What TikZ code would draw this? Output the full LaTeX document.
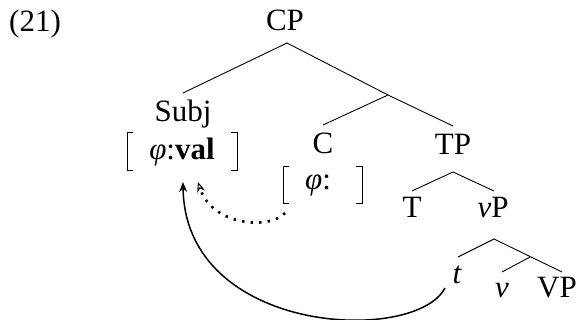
\documentclass[tikz,border=0pt]{standalone}
\usepackage{fontspec}
\setmainfont{Liberation Serif}
\usetikzlibrary{arrows.meta}
\begin{document}
\begin{tikzpicture}[x=1pt,y=-1pt,
  lab/.style={anchor=base,inner sep=0pt,font=\fontsize{31}{36}\selectfont},
  br/.style={line width=0.9pt},
  edge/.style={line width=0.9pt},
  mv/.style={line width=1.5pt,-{Stealth[length=10pt,width=8pt]}},
  agr/.style={line width=2.6pt,dash pattern=on 2.4pt off 6.2pt,-{Stealth[length=10pt,width=8pt,line width=1pt,open]}}]
\useasboundingbox (0,0) rectangle (582,320);
% labels
\node[lab,anchor=base west] (ex) at (9,32) {(21)};
\node[lab] (CP) at (285,31) {CP};
\node[lab] (Subj) at (183,122) {Subj};
\node[lab] (fv) at (182,160) {{\itshape φ}:\textbf{val}};
\node[lab] (C) at (323,154) {C};
\node[lab] (fu) at (318,190) {{\itshape φ}:};
\node[lab] (TP) at (453,155) {TP};
\node[lab] (T) at (412,218) {T};
\node[lab] (vP) at (493,218) {{\itshape v}P};
\node[lab] (t) at (457,284) {\itshape t};
\node[lab] (v) at (502,298) {\itshape v};
\node[lab] (VP) at (557,298) {VP};
% tree coordinates
\coordinate (cpA) at (287,43);
\coordinate (subjT) at (183,93);
\coordinate (cbA) at (388,95);
\coordinate (cT) at (323,125);
\coordinate (tpT) at (453,126);
\coordinate (tpA) at (453,172);
\coordinate (tT) at (412,191);
\coordinate (vpT) at (494,191);
\coordinate (vpA) at (494,239);
\coordinate (ttT) at (458,257);
\coordinate (VPT) at (562,272);
\coordinate (vbA) at (530,257);
\coordinate (vT) at (502,272);
\draw[edge] (subjT) -- (cpA) -- (cbA);
\draw[edge] (cT) -- (cbA) -- (tpT);
\draw[edge] (tT) -- (tpA) -- (vpT);
\draw[edge] (ttT) -- (vpA) -- (VPT);
\draw[edge] (vbA) -- (vT);
% brackets
\draw[br] (133,132) -- (127,132) -- (127,170) -- (133,170);
\draw[br] (231,132) -- (237,132) -- (237,170) -- (231,170);
\draw[br] (289,166) -- (283,166) -- (283,203) -- (289,203);
\draw[br] (356,166) -- (362,166) -- (362,203) -- (356,203);
% arrows
\coordinate (mvS) at (445,288);
\coordinate (mvE) at (183,182);
\coordinate (agS) at (285,213);
\coordinate (agE) at (198,182);
\draw[mv] (mvS) .. controls (415,345) and (185,335) .. (mvE);
\draw[agr] (agS) .. controls (270,230) and (212,226) .. (agE);
\end{tikzpicture}
\end{document}
